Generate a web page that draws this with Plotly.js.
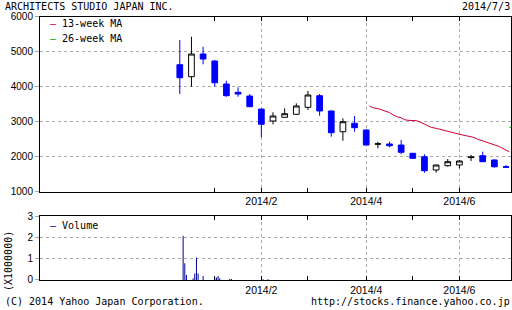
<!DOCTYPE html>
<html><head><meta charset="utf-8">
<script src="https://cdn.plot.ly/plotly-3.0.1.min.js"></script>
<style>html,body{margin:0;padding:0;background:#fff}#chart{width:512px;height:310px}</style>
</head><body><div id="chart"></div>
<script>
// Weekly candles (week starting Monday)
const weekDates = ["2013-12-16","2013-12-23","2013-12-30","2014-01-06","2014-01-13","2014-01-20","2014-01-27",
  "2014-02-03","2014-02-10","2014-02-17","2014-02-24","2014-03-03","2014-03-10","2014-03-17","2014-03-24",
  "2014-03-31","2014-04-07","2014-04-14","2014-04-21","2014-04-28","2014-05-05","2014-05-12","2014-05-19",
  "2014-05-26","2014-06-02","2014-06-09","2014-06-16","2014-06-23","2014-06-30"];
const openPrices  = [4629,4286,4934,4734,4077,3840,3734,3360,3020,3126,3211,3411,3743,3306,2714,2954,2763,2355,2363,2334,2097,2000,1620,1743,1763,1975,2029,1906,1714];
const highPrices  = [5334,5429,5143,4763,4171,3983,3790,3370,3269,3383,3526,3877,3791,3320,3097,3163,2783,2429,2429,2477,2110,2069,1763,1934,1906,2049,2143,1926,1763];
const lowPrices   = [3791,4000,4640,4000,3714,3714,3420,2554,2926,3120,3200,3334,3171,2571,2457,2714,2320,2240,2269,2069,1950,1543,1543,1714,1669,1877,1850,1686,1686];
const closePrices = [4257,4934,4791,4114,3743,3790,3429,2926,3163,3229,3449,3763,3306,2686,3000,2829,2334,2370,2314,2126,1954,1600,1763,1857,1877,1990,1857,1714,1700];

// 13-week moving average (daily)
const ma13Dates = ["2014-04-09","2014-04-11","2014-04-15","2014-04-17","2014-04-21","2014-04-23","2014-04-25","2014-04-28",
  "2014-04-30","2014-05-02","2014-05-07","2014-05-09","2014-05-13","2014-05-16","2014-05-20","2014-05-23","2014-05-27",
  "2014-05-30","2014-06-03","2014-06-06","2014-06-10","2014-06-13","2014-06-17","2014-06-20","2014-06-24","2014-06-26",
  "2014-06-30","2014-07-02"];
const ma13Values = [3450,3400,3360,3330,3260,3200,3150,3110,3060,3040,3030,3000,2900,2840,2800,2760,2720,2680,2630,2600,2560,2500,2440,2380,2330,2290,2190,2140];
// 26-week moving average (just starting)
const ma26Dates = ["2014-07-02","2014-07-03"];
const ma26Values = [2850,2830];

// Daily volume (x1,000,000 shares)
const volDates = ["2013-12-18","2013-12-19","2013-12-20","2013-12-24","2013-12-25","2013-12-26","2013-12-27","2013-12-30",
  "2014-01-06","2014-01-07","2014-01-08","2014-01-09","2014-01-15","2014-01-16","2014-02-04","2014-02-07"];
const volValues = [2.07,0.78,0.23,0.08,0.31,1.05,0.31,0.19,0.12,0.12,0.19,0.08,0.05,0.05,0.04,0.04];

const majorTickDates = ["2014-02-03","2014-04-07","2014-06-02"];
const majorTickLabels = ["2014/2","2014/4","2014/6"];
const minorTickDates = ["2014-01-06","2014-03-03","2014-05-05"];
const priceTicks = [1000,2000,3000,4000,5000,6000];
const volumeTicks = [0,1,2,3];

const mono = "DejaVu Sans Mono";
const tickFont = {family:"Liberation Sans", size:10, color:"#000"};
const gridDash = "3px,3px";

function xAxis(anchor){
  return {type:"date", range:["2013-09-23","2014-07-03"], domain:[0,1], anchor:anchor,
    tickmode:"array", tickvals:majorTickDates, ticktext:majorTickLabels,
    ticks:"inside", ticklen:4, tickcolor:"#000", mirror:"ticks",
    showline:true, linecolor:"#000", linewidth:1,
    showgrid:true, gridcolor:"#aaa", griddash:gridDash, gridwidth:1,
    minor:{tickmode:"array", tickvals:minorTickDates, ticks:"inside", ticklen:4, tickcolor:"#000", showgrid:false},
    tickfont:{family:"Liberation Sans", size:10.5, color:"#000"}, zeroline:false, fixedrange:true, rangeslider:{visible:false}};
}
function yAxis(anchor, domain, range, vals){
  return {anchor:anchor, domain:domain, range:range, tickmode:"array", tickvals:vals,
    ticks:"outside", ticklen:4, tickcolor:"#aaa",
    showline:true, linecolor:"#000", linewidth:1, mirror:true,
    showgrid:true, gridcolor:"#aaa", griddash:gridDash, gridwidth:1,
    tickfont:tickFont, zeroline:false, fixedrange:true};
}

const traces = [
  {type:"candlestick", x:weekDates, open:openPrices, high:highPrices, low:lowPrices, close:closePrices,
   increasing:{line:{color:"#000", width:1}, fillcolor:"#fff"},
   decreasing:{line:{color:"#0000ff", width:1}, fillcolor:"#0000ff"},
   whiskerwidth:0, showlegend:false, hoverinfo:"skip", xaxis:"x", yaxis:"y"},
  {type:"scatter", mode:"lines", x:ma13Dates, y:ma13Values, line:{color:"#cc0033", width:1},
   showlegend:false, hoverinfo:"skip", xaxis:"x", yaxis:"y"},
  {type:"scatter", mode:"lines", x:ma26Dates, y:ma26Values, line:{color:"#00aa00", width:1},
   showlegend:false, hoverinfo:"skip", xaxis:"x", yaxis:"y"},
  {type:"bar", x:volDates, y:volValues, width:0.6*86400000, marker:{color:"#000099", line:{width:0}},
   showlegend:false, hoverinfo:"skip", xaxis:"x2", yaxis:"y2"}
];

function px2x(p){ return (p-40)/471; }
function py2y(p){ return 1 - p/310; }
function ann(text, x, y, xanchor, extra){
  return Object.assign({text:text, xref:"paper", yref:"paper", x:px2x(x), y:py2y(y),
    xanchor:xanchor, yanchor:"middle", showarrow:false, borderpad:0,
    font:{family:mono, size:10, color:"#000"}}, extra||{});
}

const layout = {
  width:512, height:310, margin:{l:40, r:1, t:0, b:0},
  paper_bgcolor:"#fff", plot_bgcolor:"#fff", showlegend:false,
  boxgap:0.3,
  font:{family:mono, size:10, color:"#000"},
  xaxis:xAxis("y"),
  yaxis:yAxis("x", [0.3816,0.9461], [1000,6000], priceTicks),
  xaxis2:xAxis("y2"),
  yaxis2:yAxis("x2", [0.0968,0.3032], [0,3], volumeTicks),
  annotations:[
    ann("ARCHITECTS STUDIO JAPAN INC.", 4, 6.5, "left"),
    ann("2014/7/3", 511, 6.5, "right"),
    ann('<span style="color:#cc0033">–</span> 13-week MA', 49, 23, "left"),
    ann('<span style="color:#00aa00">–</span> 26-week MA', 49, 39, "left"),
    ann('<span style="color:#0000aa">–</span> Volume', 49, 225, "left"),
    ann("(X1000000)", 8, 261, "center", {textangle:-90}),
    ann("(C) 2014 Yahoo Japan Corporation.", 4, 301, "left"),
    ann("http://stocks.finance.yahoo.co.jp", 511, 301, "right")
  ]
};

Plotly.newPlot("chart", traces, layout, {staticPlot:true, displayModeBar:false});
</script>
</body></html>
